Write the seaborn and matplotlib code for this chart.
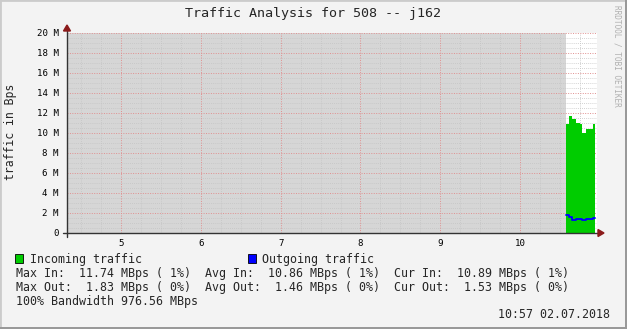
import matplotlib
matplotlib.use("Agg")
import matplotlib.pyplot as plt
import seaborn as sns
import numpy as np
import pandas as pd
from matplotlib.patches import Rectangle, Polygon

# ---- data (hours of day, bytes per second) ----
time_edges = [10.577, 10.614, 10.656, 10.699, 10.753, 10.774, 10.828, 10.912, 10.941]
incoming_m = [10.9, 11.74, 11.4, 11.0, 10.9, 10.0, 10.4, 10.89]
outgoing_m = [1.83, 1.57, 1.32, 1.40, 1.40, 1.30, 1.40, 1.53]
x_ticks = [5, 6, 7, 8, 9, 10]
y_ticks_m = [0, 2, 4, 6, 8, 10, 12, 14, 16, 18, 20]
y_tick_labels = ["0"] + [f"{v} M" for v in y_ticks_m[1:]]
title = "Traffic Analysis for 508 -- j162"
legend_rows = [
    "Max In:  11.74 MBps ( 1%)  Avg In:  10.86 MBps ( 1%)  Cur In:  10.89 MBps ( 1%)",
    "Max Out:  1.83 MBps ( 0%)  Avg Out:  1.46 MBps ( 0%)  Cur Out:  1.53 MBps ( 0%)",
    "100% Bandwidth 976.56 MBps",
]
timestamp = "10:57 02.07.2018"

sns.set_style("white")
plt.rcParams['font.family'] = ['DejaVu Sans Mono']

W, H = 627, 329
fig = plt.figure(figsize=(W / 100, H / 100), dpi=100)
fig.patch.set_facecolor("#F3F3F3")

def fx(px):
    return px / W

def fy(py):
    return 1 - py / H

# borders
fig.add_artist(Rectangle((0, 0), 1, 1, transform=fig.transFigure, fill=False,
                         edgecolor="#CBCBCB", lw=2))
fig.add_artist(Rectangle((fx(625), 0), fx(2), 1, transform=fig.transFigure,
                         facecolor="#999999", edgecolor="none"))
fig.add_artist(Rectangle((0, 0), 1, fy(327), transform=fig.transFigure,
                         facecolor="#999999", edgecolor="none"))

L, R, T, B = 67, 597, 33, 233
ax = fig.add_axes([fx(L), fy(B), fx(R - L), (B - T) / H])
x0 = 5 + (L - 121.2) / 79.75
x1 = 5 + (R - 121.2) / 79.75
ax.set_xlim(x0, x1)
ax.set_ylim(0, 20e6)
ax.set_facecolor("white")
for s in ax.spines.values():
    s.set_visible(False)

# unknown-data shading
ax.axvspan(x0, time_edges[0], color="#D6D6D6", lw=0, zorder=0)

# grid
for xv in np.arange(4.5, 11.0, 0.25):
    if abs(xv - round(xv)) < 1e-6:
        continue
    ax.axvline(xv, color="#C4C4C4", lw=0.6, ls=(0, (1, 1.5)), zorder=1)
for yv in np.arange(0.5, 20.0, 0.5):
    if abs(yv - round(yv / 2) * 2) < 1e-6:
        continue
    ax.axhline(yv * 1e6, color="#C4C4C4", lw=0.6, ls=(0, (1, 1.5)), zorder=1)
for xv in x_ticks:
    ax.axvline(xv, color="#E09090", lw=0.7, ls=(0, (1, 1.5)), zorder=1)
for yv in y_ticks_m[1:]:
    ax.axhline(yv * 1e6, color="#E09090", lw=0.7, ls=(0, (1, 1.5)), zorder=1)

# data
inc = np.array(incoming_m + [incoming_m[-1]]) * 1e6
out = np.array(outgoing_m + [outgoing_m[-1]]) * 1e6
ax.fill_between(time_edges, inc, step="post", color="#00CC00", lw=0, zorder=2)
df = pd.DataFrame({"t": time_edges, "out": out})
sns.lineplot(data=df, x="t", y="out", ax=ax, color="#0000FF", lw=1.3,
             drawstyle="steps-post", zorder=3)
ax.set_xlabel("")
ax.set_ylabel("")

# ticks
ax.set_xticks(x_ticks)
ax.set_xticklabels([str(v) for v in x_ticks])
ax.set_yticks([v * 1e6 for v in y_ticks_m])
ax.set_yticklabels(y_tick_labels)
ax.tick_params(axis="both", length=0, labelsize=6.6, colors="#000000")
ax.tick_params(axis="y", pad=6)
ax.tick_params(axis="x", pad=4)

# axes lines and arrows
ax.plot([x0 - 4 / 79.75, x1 + 1 / 79.75], [0, 0], color="#333333", lw=1,
        clip_on=False, zorder=4)
ax.plot([x0, x0], [-0.4e6, 20.3e6], color="#333333", lw=1, clip_on=False, zorder=4)
fig.add_artist(Polygon([[fx(598), fy(229.5)], [fx(598), fy(236.5)], [fx(604), fy(233)]],
                       closed=True, transform=fig.transFigure, color="#8B1A1A"))
fig.add_artist(Polygon([[fx(63.5), fy(31)], [fx(70.5), fy(31)], [fx(67), fy(25)]],
                       closed=True, transform=fig.transFigure, color="#8B1A1A"))

# titles
fig.text(fx(313), fy(14), title, ha="center", va="center", fontsize=9.6)
fig.text(fx(10.5), fy(132), "traffic in Bps", ha="center", va="center",
         rotation=90, fontsize=8.3)
fig.text(fx(617), fy(5), "RRDTOOL / TOBI OETIKER", ha="center", va="top",
         rotation=270, fontsize=5.6, color="#B0B0B0")

# legend
fig.add_artist(Rectangle((fx(15), fy(263)), fx(8), 9 / H, transform=fig.transFigure,
                         facecolor="#00CC00", edgecolor="black", lw=0.6))
fig.add_artist(Rectangle((fx(248), fy(263)), fx(8), 9 / H, transform=fig.transFigure,
                         facecolor="#0000FF", edgecolor="black", lw=0.6))
fig.text(fx(30), fy(259), "Incoming traffic", ha="left", va="center", fontsize=8.33)
fig.text(fx(262), fy(259), "Outgoing traffic", ha="left", va="center", fontsize=8.33)
for i, row in enumerate(legend_rows):
    fig.text(fx(16), fy(273 + 14 * i), row, ha="left", va="center", fontsize=8.33)
fig.text(fx(610), fy(315), timestamp, ha="right", va="center", fontsize=8.33)

fig.savefig("out.png", dpi=100, facecolor=fig.get_facecolor())
